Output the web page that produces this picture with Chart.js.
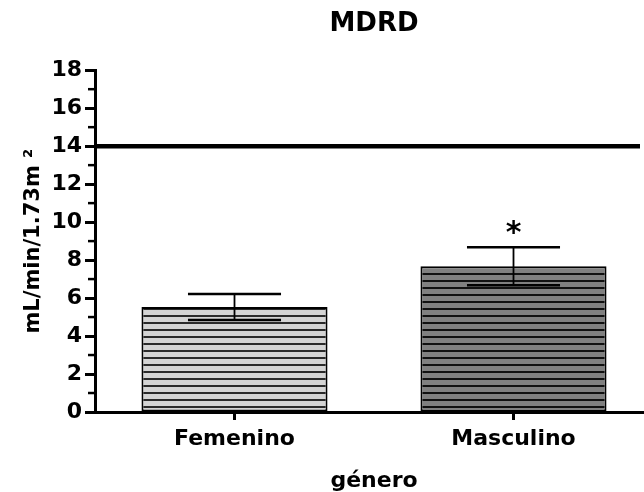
<!DOCTYPE html>
<html>
<head>
<meta charset="utf-8">
<script src="https://cdn.jsdelivr.net/npm/chart.js@4.4.1/dist/chart.umd.min.js"></script>
<style>
  html, body { margin: 0; padding: 0; background: #fff; overflow: hidden; }
</style>
</head>
<body>
<canvas id="chart" width="660" height="492"></canvas>
<script>
// data
const categories = ['Femenino', 'Masculino'];
const means = [5.53, 7.68];
const sem = [0.68, 1.0];
const marks = ['', '*'];
const referenceValue = 14;
const yMin = 0;
const yMax = 18;

const FONT = 'DejaVu Sans';

// horizontal hatch fill
function hatch(bg, line) {
  const c = document.createElement('canvas');
  c.width = 8;
  c.height = 7;
  const g = c.getContext('2d');
  g.fillStyle = bg;
  g.fillRect(0, 0, 8, 7);
  g.fillStyle = line;
  g.fillRect(0, 0, 8, 2);
  return g.createPattern(c, 'repeat');
}

const extras = {
  id: 'extras',
  afterDatasetsDraw(chart) {
    const { ctx, chartArea, scales: { y } } = chart;
    const bars = chart.getDatasetMeta(0).data;
    ctx.save();
    ctx.strokeStyle = '#000';
    ctx.lineCap = 'butt';

    // error bars (mean +/- sem)
    bars.forEach((bar, i) => {
      const top = y.getPixelForValue(means[i] + sem[i]);
      const bot = y.getPixelForValue(means[i] - sem[i]);
      const half = bar.width / 4;
      ctx.lineWidth = 1.8;
      ctx.beginPath();
      ctx.moveTo(bar.x, top);
      ctx.lineTo(bar.x, bot);
      ctx.stroke();
      ctx.lineWidth = 2.5;
      ctx.beginPath();
      ctx.moveTo(bar.x - half, top);
      ctx.lineTo(bar.x + half, top);
      ctx.moveTo(bar.x - half, bot);
      ctx.lineTo(bar.x + half, bot);
      ctx.stroke();

      if (marks[i]) {
        ctx.fillStyle = '#000';
        ctx.font = 'bold 30px "' + FONT + '"';
        ctx.textAlign = 'center';
        ctx.textBaseline = 'alphabetic';
        ctx.fillText(marks[i], bar.x, top - 5);
      }
    });

    // reference line
    const ry = y.getPixelForValue(referenceValue);
    ctx.lineWidth = 4.5;
    ctx.beginPath();
    ctx.moveTo(chartArea.left, ry);
    ctx.lineTo(chartArea.right - 13, ry);
    ctx.stroke();

    // minor ticks on y axis
    ctx.lineWidth = 2.5;
    for (let v = yMin + 1; v < yMax; v += 2) {
      const py = y.getPixelForValue(v);
      ctx.beginPath();
      ctx.moveTo(chartArea.left - 7, py);
      ctx.lineTo(chartArea.left, py);
      ctx.stroke();
    }
    ctx.restore();
  }
};

new Chart(document.getElementById('chart'), {
  type: 'bar',
  data: {
    labels: categories,
    datasets: [{
      data: means,
      backgroundColor: [hatch('#d4d4d4', '#2a2a2a'), hatch('#808080', '#111')],
      borderColor: '#000',
      borderWidth: 2,
      borderSkipped: false,
      categoryPercentage: 1,
      barPercentage: 0.667
    }]
  },
  options: {
    responsive: false,
    animation: false,
    layout: { padding: { right: 7, left: 0, bottom: 0, top: 0 } },
    plugins: {
      legend: { display: false },
      tooltip: { enabled: false },
      title: {
        display: true,
        text: 'MDRD',
        fullSize: false,
        color: '#000',
        font: { family: FONT, size: 26, weight: 'bold' },
        padding: { top: 9, bottom: 30 }
      }
    },
    scales: {
      x: {
        grid: { drawOnChartArea: false, offset: false, tickLength: 8, tickWidth: 3, tickColor: '#000' },
        border: { color: '#000', width: 3 },
        ticks: { color: '#000', padding: 6, font: { family: FONT, size: 22, weight: 'bold' } },
        title: {
          display: true,
          text: 'género',
          color: '#000',
          font: { family: FONT, size: 22, weight: 'bold', lineHeight: 1 },
          padding: { top: 10, bottom: 0 }
        },
        afterFit(scale) { scale.height = 80; }
      },
      y: {
        min: yMin,
        max: yMax,
        grid: {
          drawOnChartArea: false,
          tickLength: 10,
          tickWidth: 3,
          tickColor: ctx => (ctx.tick && ctx.tick.value % 2 === 0 ? '#000' : 'rgba(0,0,0,0)')
        },
        border: { color: '#000', width: 3 },
        ticks: {
          stepSize: 1,
          padding: 3,
          color: '#000',
          font: { family: FONT, size: 22, weight: 'bold' },
          callback: v => (v % 2 === 0 ? v : '')
        },
        title: {
          display: true,
          text: 'mL/min/1.73m ²',
          color: '#000',
          font: { family: FONT, size: 21, weight: 'bold' },
          padding: { top: 21, bottom: 4 }
        },
        afterFit(scale) { scale.width = 95; }
      }
    }
  },
  plugins: [extras]
});
</script>
</body>
</html>
